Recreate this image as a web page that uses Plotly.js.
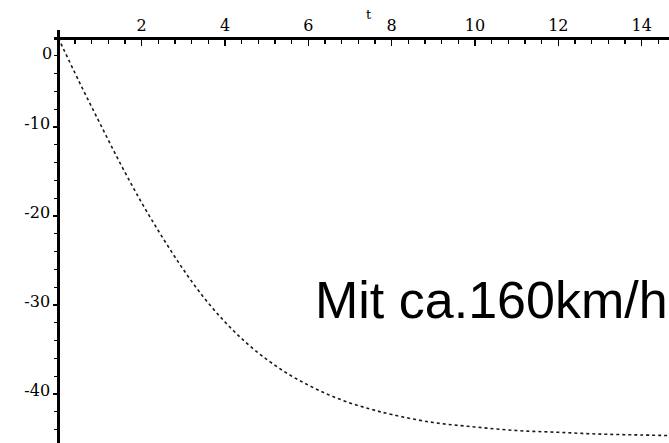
<!DOCTYPE html>
<html>
<head>
<meta charset="utf-8">
<script src="https://cdn.plot.ly/plotly-3.0.1.min.js"></script>
<style>html,body{margin:0;padding:0;background:#fff;}#chart{width:669px;height:443px;}</style>
</head>
<body>
<div id="chart"></div>
<script>
// Data (time t in s, velocity in m/s)
const tValues = [0, 0.5, 1, 1.5, 2, 2.5, 3, 3.5, 4, 4.5, 5, 5.5, 6, 6.5, 7, 7.5, 8, 9, 10, 11, 12, 13, 14, 15];
const vValues = [0, -4.9, -9.6, -14.2, -18.5, -22.4, -26.0, -29.2, -31.9, -34.2, -36.1, -37.7, -39.0, -40.1, -41.0, -41.7, -42.3, -43.2, -43.7, -44.1, -44.3, -44.5, -44.6, -44.7];
const xTickVals = [2, 4, 6, 8, 10, 12, 14];
const xTickText = ['2', '4', '6', '8', '10', '12', '14'];
const yTickVals = [-40, -30, -20, -10];
const yTickText = ['-40', '-30', '-20', '-10'];
const xLabel = 't';
const noteText = 'Mit ca.160km/h';

const tickFont = {family: 'DejaVu Serif', size: 16, color: '#000'};

const trace = {
  x: tValues,
  y: vValues,
  type: 'scatter',
  mode: 'lines',
  line: {color: '#1a1a1a', width: 1.6, dash: 'dot', shape: 'spline'},
  hoverinfo: 'none'
};

const layout = {
  width: 669,
  height: 443,
  margin: {l: 54, r: 0, t: 30, b: 0, pad: 0},
  paper_bgcolor: '#fff',
  plot_bgcolor: '#fff',
  showlegend: false,
  xaxis: {
    range: [-0.103, 14.656],
    side: 'top',
    anchor: 'free',
    position: 0.9806,
    showline: true, linecolor: '#000', linewidth: 3,
    showgrid: false, zeroline: false,
    tickmode: 'array', tickvals: xTickVals, ticktext: xTickText,
    ticks: 'inside', ticklen: 6, tickwidth: 1.5, tickcolor: '#000',
    minor: {tick0: 0, dtick: 0.4, ticks: 'inside', ticklen: 4, tickwidth: 1.2, tickcolor: '#000', showgrid: false},
    tickfont: tickFont,
    fixedrange: true
  },
  yaxis: {
    range: [-45.5, 0.9],
    anchor: 'free',
    position: 0.007,
    showline: true, linecolor: '#000', linewidth: 3,
    showgrid: false, zeroline: false,
    tickmode: 'array', tickvals: yTickVals, ticktext: yTickText,
    ticks: 'outside', ticklen: 4, tickwidth: 1.5, tickcolor: '#000',
    minor: {tick0: 0, dtick: 2, ticks: 'outside', ticklen: 3, tickwidth: 1.2, tickcolor: '#000', showgrid: false},
    tickfont: tickFont,
    ticklabelshift: -4,
    fixedrange: true
  },
  annotations: [
    {text: '0', xref: 'x', yref: 'y', x: -0.1, y: -1.7, xanchor: 'right', yanchor: 'middle', showarrow: false, font: tickFont},
    {text: xLabel, xref: 'x', yref: 'paper', x: 7.45, y: 1.0, xanchor: 'center', yanchor: 'bottom', yshift: 6, showarrow: false, font: {family: 'DejaVu Serif', size: 13, color: '#000'}},
    {text: noteText, xref: 'x', yref: 'y', x: 6.11, y: -29.4, xanchor: 'left', yanchor: 'middle', showarrow: false, font: {family: 'Liberation Sans', size: 52, color: '#000'}}
  ]
};

Plotly.newPlot('chart', [trace], layout, {staticPlot: true, displayModeBar: false});
</script>
</body>
</html>
